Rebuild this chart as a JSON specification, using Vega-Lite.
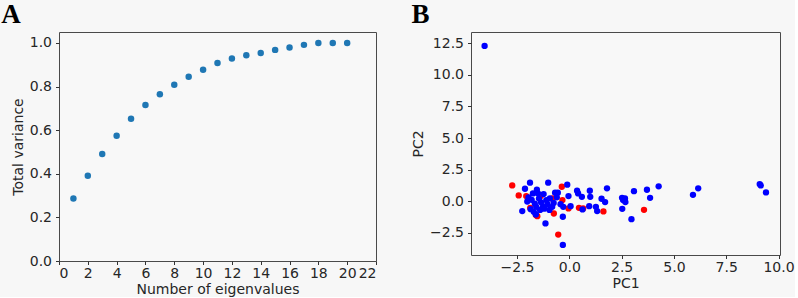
{
  "$schema": "https://vega.github.io/schema/vega-lite/v6.json",
  "background": "#f7f7f7",
  "padding": {"left": 0, "top": 0, "right": 0, "bottom": 0},
  "config": {
    "font": "DejaVu Sans",
    "view": {"stroke": "#4a4a4a", "strokeWidth": 1, "fill": "#f8f8f8"},
    "axis": {
      "grid": false,
      "domain": false,
      "tickColor": "#333333",
      "tickSize": 3.5,
      "labelFontSize": 14,
      "labelColor": "#262626",
      "titleFontSize": 14,
      "titleFontWeight": "normal",
      "titleColor": "#262626"
    },
    "axisX": {"labelPadding": 1.5, "titlePadding": 2},
    "axisY": {"labelPadding": 4, "titlePadding": 4},
    "title": {
      "font": "Liberation Serif",
      "fontSize": 27,
      "fontWeight": "bold",
      "color": "#000000",
      "anchor": "start",
      "frame": "bounds",
      "offset": 3
    }
  },
  "datasets": {
    "variance": [
      {"n": 1, "total": 0.287}, {"n": 2, "total": 0.391}, {"n": 3, "total": 0.491},
      {"n": 4, "total": 0.574}, {"n": 5, "total": 0.652}, {"n": 6, "total": 0.715},
      {"n": 7, "total": 0.765}, {"n": 8, "total": 0.808}, {"n": 9, "total": 0.845},
      {"n": 10, "total": 0.877}, {"n": 11, "total": 0.908}, {"n": 12, "total": 0.928},
      {"n": 13, "total": 0.943}, {"n": 14, "total": 0.954}, {"n": 15, "total": 0.968},
      {"n": 16, "total": 0.979}, {"n": 17, "total": 0.991}, {"n": 18, "total": 1.0},
      {"n": 19, "total": 1.0}, {"n": 20, "total": 1.0}
    ],
    "pca": [
      {"pc1": -4.05, "pc2": 12.3, "group": "b"},
      {"pc1": -2.25, "pc2": -0.79, "group": "b"},
      {"pc1": -2.12, "pc2": 0.98, "group": "b"},
      {"pc1": -1.88, "pc2": 1.46, "group": "b"},
      {"pc1": -2.01, "pc2": -0.03, "group": "b"},
      {"pc1": -1.74, "pc2": 0.61, "group": "b"},
      {"pc1": -1.85, "pc2": -0.64, "group": "b"},
      {"pc1": -1.5, "pc2": 0.61, "group": "b"},
      {"pc1": -1.58, "pc2": -0.45, "group": "b"},
      {"pc1": -1.6, "pc2": -1.06, "group": "b"},
      {"pc1": -1.23, "pc2": 0.56, "group": "b"},
      {"pc1": -1.26, "pc2": -0.45, "group": "b"},
      {"pc1": -1.1, "pc2": 0.08, "group": "b"},
      {"pc1": -1.14, "pc2": -1.77, "group": "b"},
      {"pc1": -1.01, "pc2": 1.46, "group": "b"},
      {"pc1": -0.93, "pc2": 0.21, "group": "b"},
      {"pc1": -0.82, "pc2": -0.45, "group": "b"},
      {"pc1": -0.68, "pc2": 0.66, "group": "b"},
      {"pc1": -0.55, "pc2": 0.66, "group": "b"},
      {"pc1": -0.42, "pc2": -0.24, "group": "b"},
      {"pc1": -0.1, "pc2": 1.3, "group": "b"},
      {"pc1": -0.04, "pc2": 0.4, "group": "b"},
      {"pc1": -0.29, "pc2": -0.45, "group": "b"},
      {"pc1": 0.06, "pc2": -0.4, "group": "b"},
      {"pc1": -0.31, "pc2": -1.24, "group": "b"},
      {"pc1": -0.31, "pc2": -3.47, "group": "b"},
      {"pc1": 0.37, "pc2": 0.82, "group": "b"},
      {"pc1": 0.42, "pc2": 0.61, "group": "b"},
      {"pc1": 0.6, "pc2": 0.34, "group": "b"},
      {"pc1": 0.63, "pc2": -0.66, "group": "b"},
      {"pc1": 0.98, "pc2": 0.82, "group": "b"},
      {"pc1": 1.0, "pc2": 0.34, "group": "b"},
      {"pc1": 0.95, "pc2": -0.4, "group": "b"},
      {"pc1": 1.27, "pc2": -0.45, "group": "b"},
      {"pc1": 1.33, "pc2": -0.79, "group": "b"},
      {"pc1": 1.54, "pc2": 0.19, "group": "b"},
      {"pc1": 1.71, "pc2": -0.08, "group": "b"},
      {"pc1": 1.8, "pc2": 1.01, "group": "b"},
      {"pc1": 2.52, "pc2": 0.26, "group": "b"},
      {"pc1": 2.53, "pc2": -0.61, "group": "b"},
      {"pc1": 2.57, "pc2": 0.08, "group": "b"},
      {"pc1": 2.66, "pc2": 0.21, "group": "b"},
      {"pc1": 2.68, "pc2": -0.08, "group": "b"},
      {"pc1": 2.97, "pc2": -1.43, "group": "b"},
      {"pc1": 3.09, "pc2": 0.79, "group": "b"},
      {"pc1": 3.71, "pc2": 0.9, "group": "b"},
      {"pc1": 3.86, "pc2": 0.26, "group": "b"},
      {"pc1": 4.27, "pc2": 1.17, "group": "b"},
      {"pc1": 5.91, "pc2": 0.5, "group": "b"},
      {"pc1": 6.16, "pc2": 1.01, "group": "b"},
      {"pc1": 9.1, "pc2": 1.35, "group": "b"},
      {"pc1": 9.15, "pc2": 1.24, "group": "b"},
      {"pc1": 9.4, "pc2": 0.69, "group": "b"},
      {"pc1": -1.95, "pc2": 0.3, "group": "b"},
      {"pc1": -1.8, "pc2": 0.1, "group": "b"},
      {"pc1": -1.65, "pc2": -0.2, "group": "b"},
      {"pc1": -1.45, "pc2": 0.2, "group": "b"},
      {"pc1": -1.35, "pc2": -0.1, "group": "b"},
      {"pc1": -1.2, "pc2": -0.6, "group": "b"},
      {"pc1": -1.05, "pc2": -0.25, "group": "b"},
      {"pc1": -0.95, "pc2": -0.7, "group": "b"},
      {"pc1": -0.75, "pc2": -0.15, "group": "b"},
      {"pc1": -1.7, "pc2": -0.85, "group": "b"},
      {"pc1": -1.4, "pc2": -0.7, "group": "b"},
      {"pc1": -0.6, "pc2": 0.3, "group": "b"},
      {"pc1": -1.55, "pc2": 0.9, "group": "b"},
      {"pc1": -2.73, "pc2": 1.24, "group": "r"},
      {"pc1": -2.42, "pc2": 0.45, "group": "r"},
      {"pc1": -1.87, "pc2": -0.53, "group": "r"},
      {"pc1": -2.06, "pc2": 0.4, "group": "r"},
      {"pc1": -1.53, "pc2": -1.19, "group": "r"},
      {"pc1": -1.37, "pc2": 0.4, "group": "r"},
      {"pc1": -0.82, "pc2": 0.21, "group": "r"},
      {"pc1": -0.74, "pc2": -0.98, "group": "r"},
      {"pc1": -0.36, "pc2": 1.14, "group": "r"},
      {"pc1": -0.33, "pc2": 0.08, "group": "r"},
      {"pc1": -0.04, "pc2": -0.58, "group": "r"},
      {"pc1": -0.53, "pc2": -2.65, "group": "r"},
      {"pc1": 0.46, "pc2": -0.53, "group": "r"},
      {"pc1": 0.66, "pc2": -0.58, "group": "r"},
      {"pc1": 1.63, "pc2": -0.82, "group": "r"},
      {"pc1": 3.57, "pc2": -0.69, "group": "r"},
      {"pc1": -1.6, "pc2": -1.1, "group": "r"}
    ]
  },
  "spacing": 34,
  "hconcat": [
    {
      "title": {"text": "A", "dx": -10},
      "width": 317,
      "height": 229,
      "data": {"name": "variance"},
      "mark": {"type": "point", "filled": true, "shape": "circle", "size": 42, "opacity": 1, "color": "#1f77b4"},
      "encoding": {
        "x": {
          "field": "n", "type": "quantitative",
          "scale": {"domain": [0, 22], "nice": false, "zero": false},
          "axis": {"title": "Number of eigenvalues", "values": [0, 2, 4, 6, 8, 10, 12, 14, 16, 18, 20, 22], "format": "d"}
        },
        "y": {
          "field": "total", "type": "quantitative",
          "scale": {"domain": [0, 1.05], "nice": false},
          "axis": {"title": "Total variance", "values": [0, 0.2, 0.4, 0.6, 0.8, 1.0], "format": ".1f"}
        }
      }
    },
    {
      "title": {"text": "B", "dx": 0},
      "width": 309,
      "height": 223,
      "data": {"name": "pca"},
      "mark": {"type": "point", "filled": true, "shape": "circle", "size": 40, "opacity": 1},
      "encoding": {
        "x": {
          "field": "pc1", "type": "quantitative",
          "scale": {"domain": [-4.7, 10.07], "nice": false, "zero": false},
          "axis": {"title": "PC1", "values": [-2.5, 0, 2.5, 5, 7.5, 10], "format": ".1f"}
        },
        "y": {
          "field": "pc2", "type": "quantitative",
          "scale": {"domain": [-4.27, 13.4], "nice": false, "zero": false},
          "axis": {"title": "PC2", "values": [-2.5, 0, 2.5, 5, 7.5, 10, 12.5], "format": ".1f"}
        },
        "color": {
          "field": "group", "type": "nominal",
          "scale": {"domain": ["b", "r"], "range": ["#0000ff", "#ff0000"]},
          "legend": null
        },
        "order": {"field": "group", "sort": "descending"}
      }
    }
  ]
}
